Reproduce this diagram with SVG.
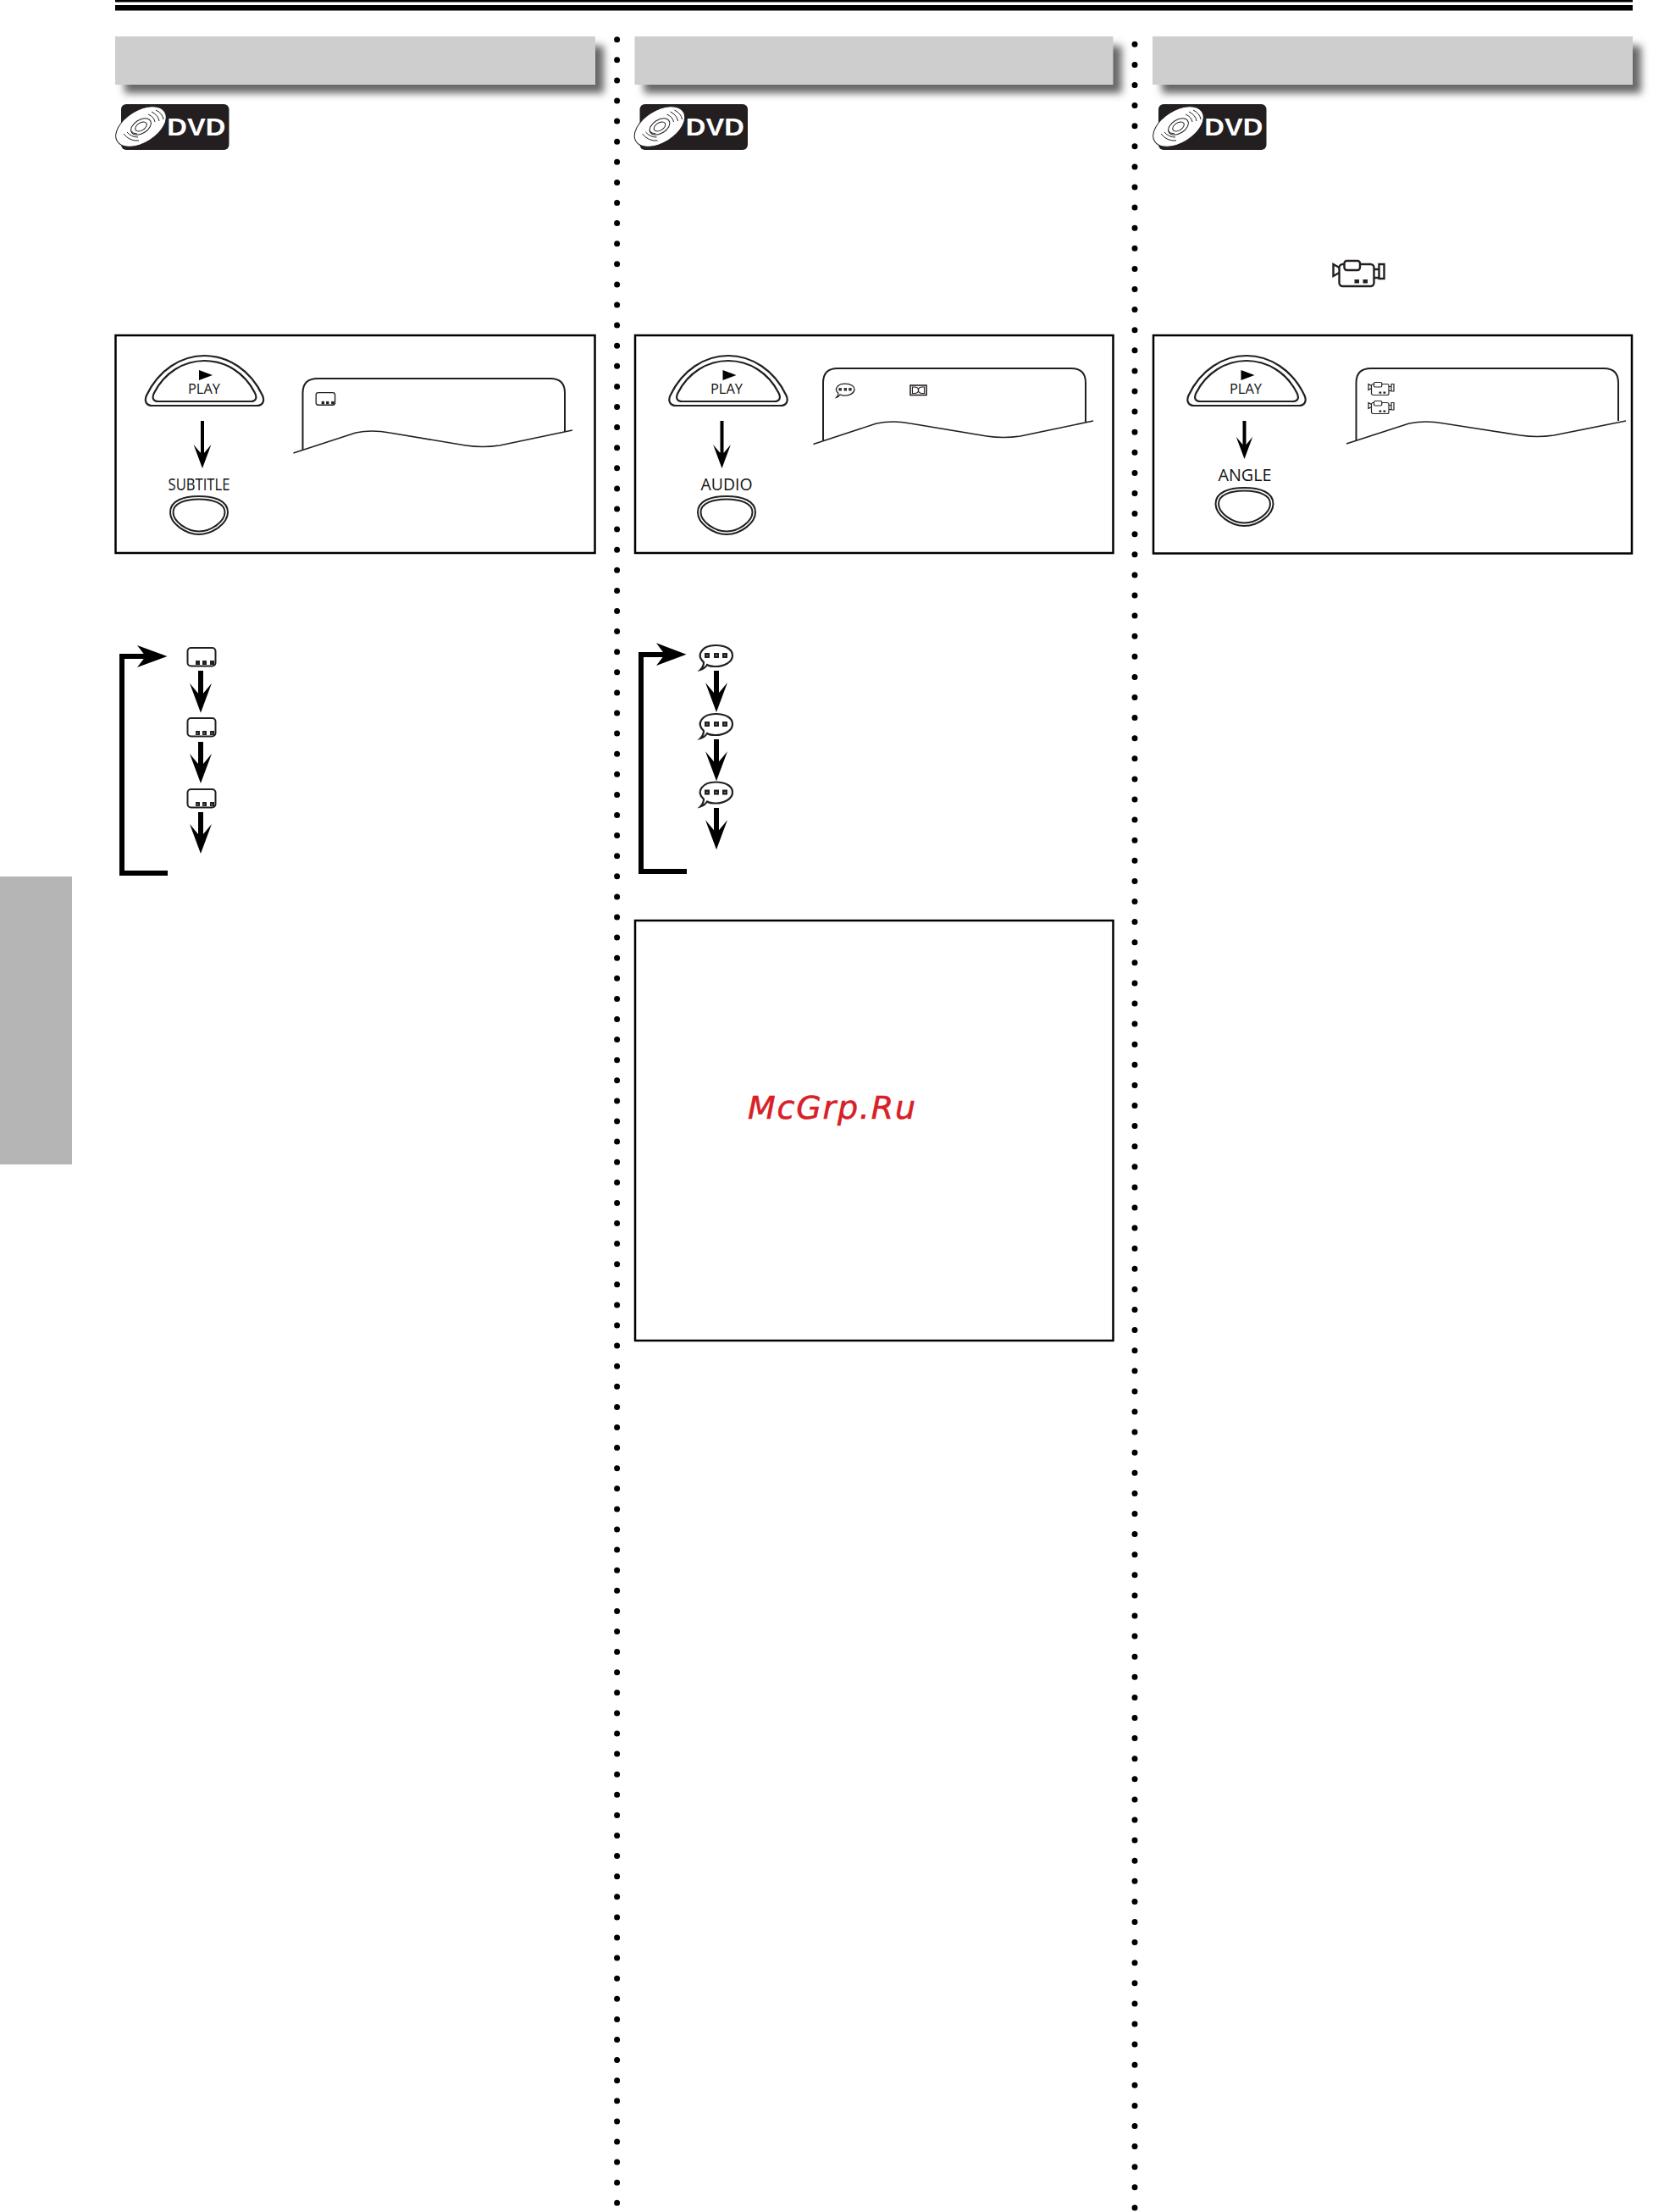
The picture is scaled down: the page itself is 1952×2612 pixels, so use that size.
<svg xmlns="http://www.w3.org/2000/svg" width="1952" height="2612" viewBox="0 0 1952 2612">
<style>
.ln{fill:none;stroke:#231f20}
.box{fill:#fff;stroke:#000;stroke-width:2.5}
.grey{fill:#cecece}
.shadow{fill:#666}
.lab{font-family:"Open Sans","Liberation Sans",sans-serif;fill:#111;text-anchor:middle}
.dot{fill:none;stroke:#000;stroke-width:7;stroke-linecap:round;stroke-dasharray:0 24.1}
.br{fill:none;stroke:#000;stroke-width:6;stroke-linejoin:miter}
.wd{fill:#fff}
</style>
<defs>
<filter id="sh" x="-5%" y="-40%" width="110%" height="180%"><feGaussianBlur stdDeviation="5"/></filter>
<symbol id="play" overflow="visible">
<path d="M8 59H131C138 59 141 54 138 47C124 17 97 0 69.500 0C42 0 15 17 1 47C-2 54 1 59 8 59Z" class="ln" stroke-width="2.200"/>
<path d="M15 54H124C130 54 132 50 129 44C117 20 94 6 69.500 6C45 6 22 20 10 44C7 50 9 54 15 54Z" class="ln" stroke-width="2.200"/>
<path d="M63 17L79 23L63 29Z" fill="#000"/>
</symbol>
<symbol id="oval" overflow="visible">
<path d="M1 20C1 6 17 1 35 1C53 1 69 6 69 20C69 33 51 46 35 46C19 46 1 33 1 20Z" class="ln" stroke-width="2"/>
<path d="M4.500 20C4.500 9 19 4.500 35 4.500C51 4.500 65.500 9 65.500 20C65.500 31 49 42.500 35 42.500C21 42.500 4.500 31 4.500 20Z" class="ln" stroke-width="2"/>
</symbol>
<symbol id="logo" overflow="visible">
<rect x="142" y="123" width="127.500" height="54" rx="6" fill="#231f20"/>
<ellipse cx="165.500" cy="149.500" rx="33" ry="19" transform="rotate(-32 165.500 149.500)" fill="#fff" stroke="#231f20" stroke-width="1"/>
<ellipse cx="165.500" cy="149.500" rx="13" ry="8" transform="rotate(-32 165.500 149.500)" class="ln" stroke-width="1"/>
<ellipse cx="165.500" cy="149.500" rx="7.500" ry="4.500" transform="rotate(-32 165.500 149.500)" class="ln" stroke-width="1"/>
<path d="M145 158Q152 167 163 166M149 156Q154 162 162 162M153 154Q156 158 161 158M183 130Q191 134 192 141M178 132Q186 136 187 143M174 135Q181 138 182 144" class="ln" stroke-width="1"/>
<text x="230.800" y="160" font-family="'Liberation Sans',sans-serif" font-weight="700" font-size="29" fill="#fff" text-anchor="middle" textLength="69" lengthAdjust="spacingAndGlyphs">DVD</text>
</symbol>
<symbol id="head" overflow="visible"><path d="M-13 -35L0 0L13 -35L3 -23H-3Z" fill="#000"/></symbol>
<symbol id="sub" overflow="visible">
<rect x="1" y="1" width="33" height="21.500" rx="4" fill="#fff" stroke="#231f20" stroke-width="2"/>
<rect x="10.500" y="16" width="5" height="5" fill="#231f20"/><rect x="18.500" y="16" width="5" height="5" fill="#231f20"/><rect x="27.500" y="16" width="5" height="5" fill="#231f20"/>
</symbol>
<symbol id="bub" overflow="visible">
<path d="M7 21C-3 12 6 1 21 1C35 1 41 7 41 13C41 21 31 26 21 26C17 26 14 26 11 24C9 27 7 29 3 30C6 27 7 24 7 21Z" fill="#fff" stroke="#231f20" stroke-width="2.200"/>
<rect x="8" y="10" width="6" height="6" fill="#231f20"/><rect x="19" y="10" width="6" height="6" fill="#231f20"/><rect x="29" y="10" width="6" height="6" fill="#231f20"/>
<rect x="10.500" y="12.500" width="1" height="1" class="wd"/><rect x="21.500" y="12.500" width="1" height="1" class="wd"/><rect x="31.500" y="12.500" width="1" height="1" class="wd"/>
</symbol>
<symbol id="cam" overflow="visible">
<rect x="8" y="5" width="41" height="26" rx="4" fill="#fff" stroke="#231f20" stroke-width="2.400"/>
<rect x="14" y="1" width="18.500" height="11" rx="3" fill="#fff" stroke="#231f20" stroke-width="2.400"/>
<path d="M8 9L1 5V19L8 15M49 11H55M49 21H55M55 5H61V22H55Z" fill="none" stroke="#231f20" stroke-width="2.400"/>
<rect x="26" y="23" width="5.500" height="4.500" fill="#231f20"/><rect x="36" y="23" width="5.500" height="4.500" fill="#231f20"/>
</symbol>
</defs>
<rect id="page-bg" width="1952" height="2612" fill="#fff"/>
<g id="top-rule"><rect x="136" y="0" width="1792" height="2.500" fill="#000"/><rect x="136" y="6" width="1792" height="6.500" fill="#000"/></g>
<rect id="side-tab" x="0" y="1035" width="85" height="340" fill="#b5b5b5"/>
<g id="dividers"><path class="dot" d="M728.600 46.700V2612"/><path class="dot" d="M1340 52.300V2612"/></g>

<g id="head-1"><rect x="147" y="54" width="566" height="56" class="shadow" filter="url(#sh)"/><rect x="136" y="43" width="567" height="57" class="grey"/></g>
<g id="head-2"><rect x="760.500" y="54" width="564" height="56" class="shadow" filter="url(#sh)"/><rect x="749.500" y="43" width="565" height="57" class="grey"/></g>
<g id="head-3"><rect x="1372" y="54" width="566" height="56" class="shadow" filter="url(#sh)"/><rect x="1361" y="43" width="567" height="57" class="grey"/></g>
<use id="dvd-1" href="#logo" x="1"/><use id="dvd-2" href="#logo" x="613.500"/><use id="dvd-3" href="#logo" x="1226"/>

<g id="panel-1"><rect x="136.500" y="396" width="566" height="257" class="box"/>
<use href="#play" x="172" y="420"/><text x="241" y="465" class="lab" font-size="16.500" textLength="38" lengthAdjust="spacingAndGlyphs">PLAY</text>
<text x="235" y="579" class="lab" font-size="19.500" textLength="73" lengthAdjust="spacingAndGlyphs">SUBTITLE</text>
<use href="#oval" x="200" y="585"/>
<path class="ln" stroke-width="2" d="M357.500 531V464Q357.500 447 375 447H650Q667 447 667 464V510"/>
<path class="ln" stroke-width="1.600" d="M346.500 535L420 511Q439 507 460 511L550 526Q570 529 590 526L676 508"/>
<g transform="translate(372.500,463) scale(.68)"><use href="#sub"/></g></g>

<g id="panel-2"><rect x="750" y="396" width="564.500" height="257" class="box"/>
<use href="#play" x="790.500" y="420"/><text x="858" y="465" class="lab" font-size="16.500" textLength="38" lengthAdjust="spacingAndGlyphs">PLAY</text>
<text x="858" y="579" class="lab" font-size="19.500" textLength="61" lengthAdjust="spacingAndGlyphs">AUDIO</text>
<use href="#oval" x="823" y="585"/>
<path class="ln" stroke-width="2" d="M972 520V452Q972 435 989 435H1265Q1282 435 1282 452V498"/>
<path class="ln" stroke-width="1.600" d="M960.500 524.500L1035 500Q1054 496 1075 500L1165 515Q1185 518 1205 515L1291 497"/>
<g transform="translate(986,452.500) scale(.56)"><use href="#bub"/></g>
<rect x="1075" y="455" width="19" height="11.500" fill="#fff" stroke="#231f20" stroke-width="1.600"/>
<path class="ln" stroke-width="1.100" d="M1077.500 457V464.500H1079.500C1082.500 464.500 1084.500 463 1084.500 460.750C1084.500 458.500 1082.500 457 1079.500 457ZM1091.500 457V464.500H1089.500C1086.500 464.500 1084.500 463 1084.500 460.750C1084.500 458.500 1086.500 457 1089.500 457Z"/></g>

<g id="panel-3"><rect x="1362" y="396" width="565" height="257.500" class="box"/>
<use href="#play" x="1402.500" y="420"/><text x="1471" y="465" class="lab" font-size="16.500" textLength="38" lengthAdjust="spacingAndGlyphs">PLAY</text>
<text x="1470" y="567.500" class="lab" font-size="19.500" textLength="63" lengthAdjust="spacingAndGlyphs">ANGLE</text>
<use href="#oval" x="1434.500" y="575"/>
<path class="ln" stroke-width="2" d="M1601.500 520V452Q1601.500 435 1619 435H1894Q1911 435 1911 452V497"/>
<path class="ln" stroke-width="1.600" d="M1590 524L1664 500Q1684 496 1705 500L1795 514Q1815 517 1835 514L1920 497"/>
<g transform="translate(1615.500,451) scale(.5)"><use href="#cam"/></g>
<g transform="translate(1615.500,473) scale(.5)"><use href="#cam"/></g></g>

<g id="camera-icon"><use href="#cam" transform="translate(1573.500,307)"/></g>

<g id="subtitle-1"><use href="#sub" x="220.500" y="764"/></g>
<g id="subtitle-2"><use href="#sub" x="220.500" y="847"/><rect x="232.500" y="865.500" width="1" height="1" class="wd"/><rect x="240.500" y="865.500" width="1" height="1" class="wd"/><rect x="249.500" y="865.500" width="1" height="1" class="wd"/></g>
<g id="subtitle-3"><use href="#sub" x="220.500" y="931"/><rect x="232.500" y="949.500" width="1" height="1" class="wd"/><rect x="240.500" y="949.500" width="1" height="1" class="wd"/><rect x="249.500" y="949.500" width="1" height="1" class="wd"/></g>
<g id="audio-1"><use href="#bub" x="824" y="761"/></g>
<g id="audio-2"><use href="#bub" x="824" y="842"/></g>
<g id="audio-3"><use href="#bub" x="824" y="922.500"/></g>

<g id="note-box"><rect x="750" y="1087" width="564.500" height="496" class="box"/>
<text x="883" y="1321" font-family="'DejaVu Sans',sans-serif" font-style="italic" font-size="38" letter-spacing="1.800" fill="#d92027" stroke="#d92027" stroke-width=".6">McGrp.Ru</text></g>

<g id="connectors">
<path fill="none" stroke="#000" stroke-width="4" d="M239 497V538"/><use href="#head" x="239" y="553" transform="translate(239,553) scale(.8) translate(-239,-553)"/>
<path fill="none" stroke="#000" stroke-width="4" d="M852.500 497V538"/><use href="#head" x="852.500" y="553" transform="translate(852.500,553) scale(.8) translate(-852.500,-553)"/>
<path fill="none" stroke="#000" stroke-width="4" d="M1469.500 497V530"/><use href="#head" x="1469.500" y="542" transform="translate(1469.500,542) scale(.75) translate(-1469.500,-542)"/>

<path class="br" d="M198 1031H144V775H175"/><path d="M197.500 775L162 762L172 775L162 788Z" fill="#000"/>
<path class="br" d="M811 1029H757V773H785"/><path d="M810.500 772.700L775 759.300L785 772.700L775 786Z" fill="#000"/>

<path d="M237 792V825" stroke="#000" stroke-width="6" fill="none"/><use href="#head" x="237" y="841.700"/>
<path d="M237 876V908" stroke="#000" stroke-width="6" fill="none"/><use href="#head" x="237" y="925"/>
<path d="M237 959V991" stroke="#000" stroke-width="6" fill="none"/><use href="#head" x="237" y="1008"/>
<path d="M846 792V824" stroke="#000" stroke-width="6" fill="none"/><use href="#head" x="846" y="841"/>
<path d="M846 873V905" stroke="#000" stroke-width="6" fill="none"/><use href="#head" x="846" y="922.300"/>
<path d="M846 954V986" stroke="#000" stroke-width="6" fill="none"/><use href="#head" x="846" y="1003.300"/>
</g>
</svg>
